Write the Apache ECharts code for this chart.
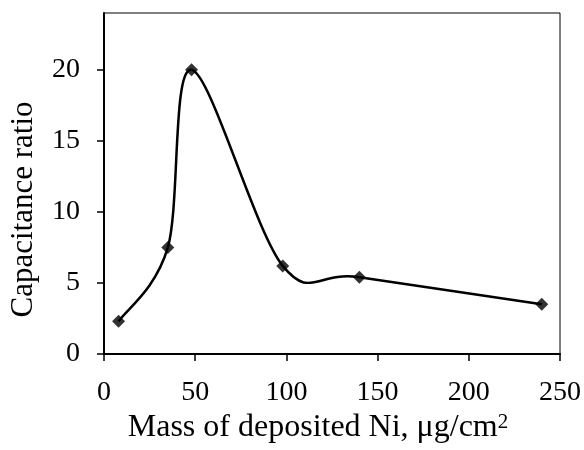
<!DOCTYPE html>
<html>
<head>
<meta charset="utf-8">
<script src="https://cdn.jsdelivr.net/npm/echarts@6/dist/echarts.min.js"></script>
<style>
  html, body { margin: 0; padding: 0; background: #fff; }
  #chart { width: 584px; height: 450px; }
</style>
</head>
<body>
<div id="chart"></div>
<script>
// mass of deposited Ni (ug/cm2) and capacitance ratio
const massNi = [8, 35, 48, 98, 140, 240];
const capRatio = [2.3, 7.5, 20, 6.2, 5.4, 3.5];
const yTicks = [0, 5, 10, 15, 20];
const xTicks = [0, 50, 100, 150, 200, 250];

const chart = echarts.init(document.getElementById('chart'));
const font = 'Liberation Serif';
const points = massNi.map((x, i) => [x, capRatio[i]]);

// spreadsheet-style smoothed curve: one bezier per segment, tangents from neighbours
function renderSegment(params, api) {
  const i = params.dataIndex;
  if (i >= points.length - 1) return null;
  const p = (k) => api.coord(points[Math.max(0, Math.min(points.length - 1, k))]);
  const p0 = p(i - 1), p1 = p(i), p2 = p(i + 1), p3 = p(i + 2);
  const t = 1 / 6;
  return {
    type: 'bezierCurve',
    shape: {
      x1: p1[0], y1: p1[1],
      cpx1: p1[0] + (p2[0] - p0[0]) * t,
      cpy1: p1[1] + (p2[1] - p0[1]) * t,
      cpx2: p2[0] - (p3[0] - p1[0]) * t,
      cpy2: p2[1] - (p3[1] - p1[1]) * t,
      x2: p2[0], y2: p2[1]
    },
    style: { fill: null, stroke: '#000', lineWidth: 2.5 }
  };
}

const options = {
  animation: false,
  grid: {
    left: 103,
    right: 24,
    top: 13,
    bottom: 96,
    show: true,
    borderColor: '#000',
    borderWidth: 1
  },
  xAxis: {
    type: 'value',
    min: 0,
    max: 250,
    interval: 50,
    name: 'Mass of deposited Ni, μg/cm{sup|2}',
    nameLocation: 'middle',
    nameGap: 55,
    nameTextStyle: {
      fontFamily: font,
      fontSize: 32,
      color: '#000',
      padding: [0, 28, 0, 0],
      rich: {
        sup: { fontFamily: font, fontSize: 21, color: '#000', verticalAlign: 'top' }
      }
    },
    axisLine: { lineStyle: { color: '#000', width: 2 } },
    axisTick: { show: true, length: 7, lineStyle: { color: '#000', width: 1.5 }, customValues: xTicks },
    axisLabel: { fontFamily: font, fontSize: 28, color: '#000', margin: 25, customValues: xTicks },
    splitLine: { show: false }
  },
  yAxis: {
    type: 'value',
    min: 0,
    max: 24,
    interval: 5,
    name: 'Capacitance ratio',
    nameLocation: 'middle',
    nameGap: 65,
    nameTextStyle: {
      fontFamily: font,
      fontSize: 31,
      color: '#000',
      padding: [0, 52, 0, 0]
    },
    axisLine: { lineStyle: { color: '#000', width: 2 } },
    axisTick: { show: true, length: 7, lineStyle: { color: '#000', width: 1.5 }, customValues: yTicks },
    axisLabel: { fontFamily: font, fontSize: 28, color: '#000', margin: 24, customValues: yTicks },
    splitLine: { show: false }
  },
  series: [
    {
      type: 'custom',
      renderItem: renderSegment,
      data: points,
      z: 2
    },
    {
      type: 'scatter',
      data: points,
      symbol: 'diamond',
      symbolSize: 13,
      itemStyle: { color: '#000' },
      z: 3
    }
  ]
};
chart.setOption(options);
</script>
</body>
</html>
